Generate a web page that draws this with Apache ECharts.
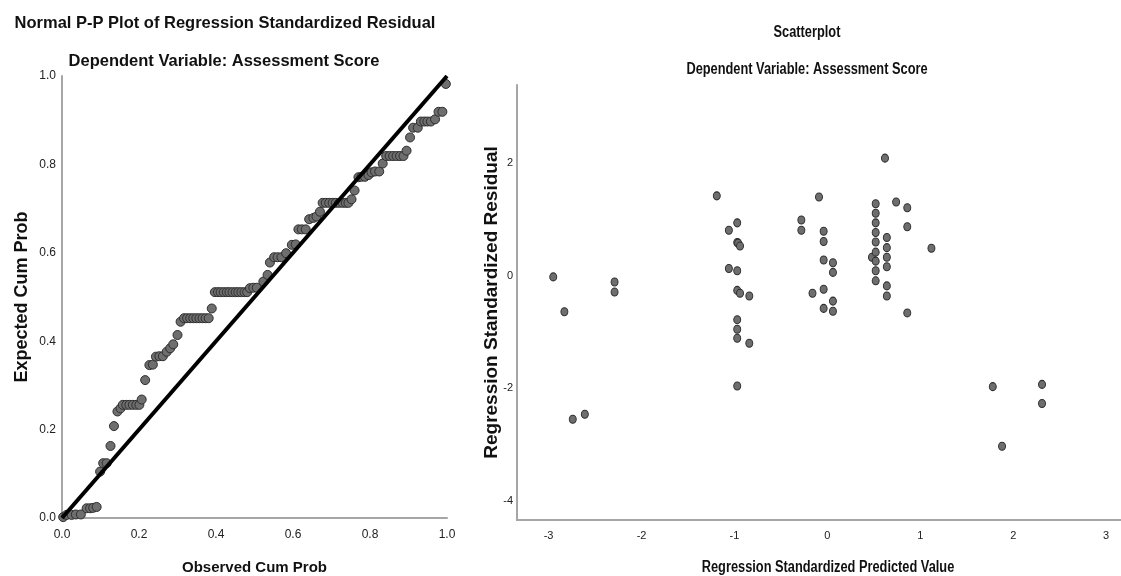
<!DOCTYPE html>
<html>
<head>
<meta charset="utf-8">
<title>Regression residual plots</title>
<script src="https://cdn.jsdelivr.net/npm/echarts@6/dist/echarts.min.js"></script>
<style>
  html, body { margin: 0; background: #fff; }
  #chart { width: 1121px; height: 576px; }
</style>
</head>
<body>
<div id="chart"></div>
<script>
  // P-P plot: [observed cum prob, expected cum prob]
  const ppPoints = [
    [0.003, 0.002], [0.012, 0.007], [0.025, 0.007], [0.036, 0.008], [0.049, 0.008],
    [0.064, 0.022], [0.073, 0.022], [0.081, 0.023], [0.090, 0.025],
    [0.099, 0.105], [0.107, 0.124], [0.116, 0.124], [0.126, 0.163], [0.135, 0.208],
    [0.144, 0.241], [0.152, 0.248],
    [0.158, 0.256], [0.167, 0.256], [0.175, 0.256], [0.184, 0.256], [0.193, 0.256], [0.201, 0.256],
    [0.207, 0.268], [0.216, 0.312], [0.227, 0.346], [0.236, 0.347],
    [0.244, 0.365], [0.253, 0.366], [0.262, 0.366],
    [0.272, 0.376], [0.281, 0.384], [0.289, 0.393], [0.300, 0.414], [0.308, 0.444],
    [0.317, 0.452], [0.325, 0.452], [0.333, 0.452], [0.341, 0.452], [0.349, 0.452],
    [0.357, 0.452], [0.365, 0.452], [0.373, 0.452], [0.381, 0.452],
    [0.389, 0.474],
    [0.397, 0.511], [0.405, 0.511], [0.412, 0.511], [0.420, 0.511], [0.428, 0.511], [0.435, 0.511],
    [0.443, 0.511], [0.451, 0.511], [0.458, 0.511], [0.466, 0.511], [0.474, 0.511], [0.481, 0.511],
    [0.488, 0.520], [0.497, 0.521], [0.506, 0.521],
    [0.523, 0.535], [0.534, 0.550],
    [0.540, 0.578], [0.551, 0.590], [0.560, 0.590], [0.570, 0.590],
    [0.582, 0.599], [0.597, 0.618], [0.607, 0.619],
    [0.614, 0.653], [0.623, 0.653], [0.633, 0.653],
    [0.642, 0.676], [0.653, 0.679], [0.661, 0.682], [0.670, 0.693],
    [0.677, 0.713], [0.685, 0.713], [0.694, 0.713], [0.703, 0.713], [0.711, 0.713],
    [0.720, 0.713], [0.729, 0.713], [0.737, 0.713], [0.744, 0.713],
    [0.752, 0.721], [0.760, 0.741],
    [0.770, 0.771], [0.778, 0.772], [0.787, 0.772],
    [0.796, 0.776], [0.804, 0.782], [0.813, 0.784], [0.824, 0.784],
    [0.833, 0.802],
    [0.842, 0.819], [0.851, 0.819], [0.860, 0.819], [0.869, 0.819], [0.878, 0.819], [0.887, 0.819],
    [0.895, 0.831], [0.904, 0.861], [0.912, 0.883], [0.924, 0.883],
    [0.932, 0.897], [0.941, 0.897], [0.949, 0.897], [0.958, 0.897],
    [0.969, 0.902], [0.978, 0.919], [0.988, 0.919], [0.997, 0.982]
  ]
  const refLine = [[0, 0], [1, 1]]

  // scatterplot: [standardized predicted value, standardized residual]
  const scatterPoints = [
    [-2.95, -0.02], [-2.83, -0.64], [-2.74, -2.55], [-2.61, -2.46], [-2.29, -0.11], [-2.29, -0.29],
    [-1.19, 1.42], [-1.06, 0.81], [-1.06, 0.13], [-0.97, 0.94], [-0.97, 0.59], [-0.96, 0.58],
    [-0.94, 0.53], [-0.97, 0.09], [-0.97, -0.26], [-0.94, -0.31], [-0.84, -0.36], [-0.97, -0.78],
    [-0.97, -0.95], [-0.97, -1.11], [-0.84, -1.20], [-0.97, -1.96],
    [-0.28, 0.99], [-0.28, 0.81], [-0.16, -0.31], [-0.09, 1.40], [-0.04, 0.79], [-0.04, 0.61],
    [-0.04, 0.28], [-0.04, -0.24], [-0.04, -0.58], [0.06, 0.23], [0.06, 0.06], [0.06, -0.45], [0.06, -0.63],
    [0.48, 0.33], [0.52, 1.28], [0.52, 1.11], [0.52, 0.94], [0.52, 0.77], [0.52, 0.60], [0.52, 0.42],
    [0.52, 0.26], [0.52, 0.09], [0.52, -0.09],
    [0.62, 2.09], [0.64, 0.68], [0.64, 0.50], [0.64, 0.33], [0.64, 0.16], [0.64, -0.18], [0.64, -0.36],
    [0.74, 1.31], [0.86, 1.21], [0.86, 0.87], [0.86, -0.66], [1.12, 0.49],
    [1.78, -1.97], [1.88, -3.03], [2.31, -1.93], [2.31, -2.27]
  ]
  const predictedTicks = [-3, -2, -1, 0, 1, 2, 3]
  const residualTicks = [-4, -2, 0, 2]

  const arial = "'Liberation Sans', Arial, sans-serif"
  const axisGray = '#a6a6a6'

  // the scatterplot texts are set in a condensed face: squeeze normal bold text
  function narrowText (text, x, y) {
    return {
      type: 'text', x: x, y: y, scaleX: 0.8, silent: true,
      style: {
        text: text, fill: '#111', font: "bold 16px 'Liberation Sans', Arial, sans-serif",
        textAlign: 'center', textVerticalAlign: 'middle'
      }
    }
  }

  const chart = echarts.init(document.getElementById('chart'))

  chart.setOption({
    animation: false,
    backgroundColor: '#fff',
    title: [
      {
        text: 'Normal P-P Plot of Regression Standardized Residual',
        left: 220, top: 10, textAlign: 'center',
        textStyle: { fontFamily: arial, fontSize: 16.5, fontWeight: 'bold', color: '#111' }
      },
      {
        text: 'Dependent Variable: Assessment Score',
        left: 219, top: 48, textAlign: 'center',
        textStyle: { fontFamily: arial, fontSize: 16.5, fontWeight: 'bold', color: '#111' }
      }
    ],
    graphic: [
      narrowText('Scatterplot', 807, 33),
      narrowText('Dependent Variable: Assessment Score', 807, 70),
      narrowText('Regression Standardized Predicted Value', 828, 568)
    ],
    grid: [
      { left: 62, top: 76, width: 385, height: 442, outerBoundsMode: 'none' },
      { left: 517, top: 85, width: 604, height: 435, outerBoundsMode: 'none' }
    ],
    xAxis: [
      {
        gridIndex: 0, type: 'value', min: 0, max: 1, interval: 0.2,
        name: 'Observed Cum Prob', nameLocation: 'middle', nameGap: 42, nameMoveOverlap: false,
        nameTextStyle: { fontFamily: arial, fontSize: 15, fontWeight: 'bold', color: '#111' },
        axisLine: { lineStyle: { color: axisGray, width: 2 } },
        axisTick: { show: false },
        splitLine: { show: false },
        axisLabel: {
          margin: 11, color: '#222', fontFamily: arial, fontSize: 12,
          formatter: v => v.toFixed(1)
        }
      },
      {
        gridIndex: 1, type: 'value', min: -3.34, max: 3.16,
        axisLine: { onZero: false, lineStyle: { color: axisGray, width: 2 } },
        axisTick: { show: false },
        splitLine: { show: false },
        axisLabel: {
          customValues: predictedTicks, margin: 10, color: '#222', fontFamily: arial, fontSize: 11
        }
      }
    ],
    yAxis: [
      {
        gridIndex: 0, type: 'value', min: 0, max: 1, interval: 0.2,
        name: 'Expected Cum Prob', nameLocation: 'middle', nameGap: 31, nameMoveOverlap: false,
        nameTextStyle: { fontFamily: arial, fontSize: 18, fontWeight: 'bold', color: '#111' },
        axisLine: { show: true, lineStyle: { color: axisGray, width: 2 } },
        axisTick: { show: false },
        splitLine: { show: false },
        axisLabel: {
          margin: 6, color: '#222', fontFamily: arial, fontSize: 12,
          formatter: v => v.toFixed(1)
        }
      },
      {
        gridIndex: 1, type: 'value', min: -4.34, max: 3.39,
        name: 'Regression Standardized Residual', nameLocation: 'middle', nameGap: 16, nameMoveOverlap: false,
        nameTextStyle: { fontFamily: arial, fontSize: 19, fontWeight: 'bold', color: '#111' },
        axisLine: { show: true, onZero: false, lineStyle: { color: axisGray, width: 2 } },
        axisTick: { show: false },
        splitLine: { show: false },
        axisLabel: {
          customValues: residualTicks, margin: 4, color: '#222', fontFamily: arial, fontSize: 11
        }
      }
    ],
    series: [
      {
        type: 'scatter', xAxisIndex: 0, yAxisIndex: 0,
        data: ppPoints,
        symbolSize: 9,
        itemStyle: { color: '#6e6e6e', borderColor: '#2e2e2e', borderWidth: 1, opacity: 1 },
        z: 2
      },
      {
        type: 'line', xAxisIndex: 0, yAxisIndex: 0,
        data: refLine,
        symbol: 'none',
        lineStyle: { color: '#000', width: 4 },
        z: 3
      },
      {
        type: 'scatter', xAxisIndex: 1, yAxisIndex: 1,
        data: scatterPoints,
        symbolSize: [7, 8],
        itemStyle: { color: '#6e6e6e', borderColor: '#2e2e2e', borderWidth: 1, opacity: 1 },
        z: 2
      }
    ]
  })
</script>
</body>
</html>
